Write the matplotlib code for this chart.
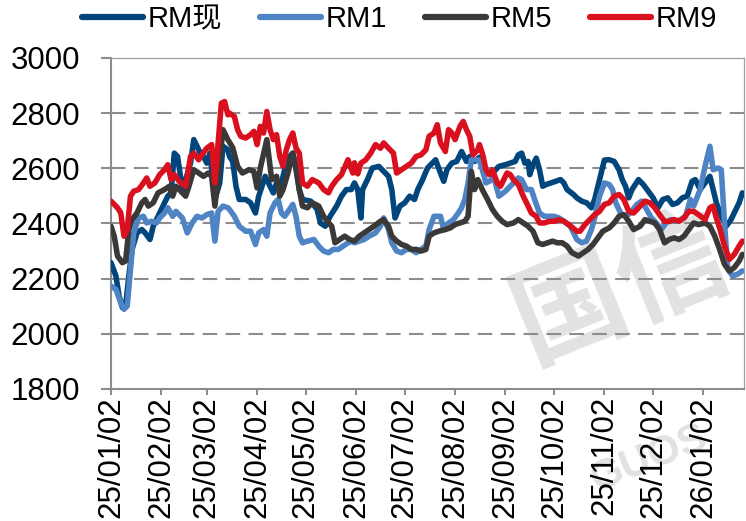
import matplotlib
matplotlib.use('Agg')
import matplotlib.pyplot as plt
import matplotlib.dates as mdates
import numpy as np
import pandas as pd

plt.rcParams['font.family'] = ['Liberation Sans', 'Noto Sans CJK SC', 'DejaVu Sans']

# dates are given as calendar days after 2025-01-02
start = np.datetime64('2025-01-02')

series_names = ['RM现', 'RM1', 'RM5', 'RM9']
series_colors = ['#00457c', '#4f84c4', '#3b3838', '#d9101e']

# RM现 (spot)
spot_days = [0, 3, 5, 7, 9, 11, 13, 16, 19, 21, 24, 26, 29, 32, 35, 37, 39, 41, 44, 46,
             49, 51, 53, 55, 57, 59, 61, 64, 67, 69, 72, 73, 75, 77, 79, 83, 86, 89, 91, 93,
             95, 98, 100, 102, 104, 107, 110, 112, 114, 116, 118, 123, 127, 129, 132, 135, 139, 142, 145, 148,
             150, 152, 154, 155, 158, 161, 165, 168, 171, 173, 175, 178, 181, 184, 187, 189, 192, 195, 198, 200,
             203, 205, 207, 210, 213, 216, 219, 221, 224, 227, 229, 231, 234, 236, 239, 243, 246, 249, 251, 253,
             255, 257, 258, 260, 262, 264, 266, 268, 271, 274, 277, 279, 281, 285, 287, 290, 293, 296, 298, 301,
             304, 307, 310, 313, 315, 317, 319, 321, 325, 328, 331, 334, 337, 340, 343, 346, 349, 352, 355, 358,
             360, 363, 366, 369, 371, 373, 376, 379, 382, 385, 387, 389]
spot_vals = [2258, 2210, 2137, 2095, 2101, 2210, 2306, 2366, 2378, 2366, 2342, 2390, 2426, 2463, 2499, 2511, 2655, 2643, 2523, 2559,
             2619, 2704, 2680, 2655, 2643, 2619, 2655, 2487, 2547, 2680, 2667, 2643, 2625, 2535, 2487, 2487, 2475, 2438, 2499, 2535,
             2571, 2535, 2511, 2547, 2523, 2595, 2643, 2655, 2607, 2523, 2487, 2481, 2451, 2402, 2390, 2426, 2463, 2499, 2523, 2523,
             2547, 2523, 2420, 2523, 2559, 2601, 2607, 2589, 2571, 2523, 2420, 2463, 2475, 2499, 2487, 2523, 2559, 2601, 2619, 2631,
             2583, 2553, 2595, 2619, 2625, 2661, 2625, 2643, 2625, 2640, 2620, 2589, 2577, 2589, 2607, 2613, 2619, 2625, 2649, 2655,
             2619, 2625, 2577, 2613, 2637, 2595, 2535, 2541, 2547, 2553, 2559, 2547, 2523, 2505, 2493, 2481, 2475, 2457, 2487, 2559,
             2630, 2631, 2625, 2595, 2559, 2535, 2493, 2523, 2559, 2541, 2517, 2493, 2457, 2487, 2493, 2469, 2475, 2493, 2499, 2553,
             2559, 2523, 2547, 2571, 2523, 2475, 2426, 2390, 2414, 2451, 2475, 2511]

# RM1
rm1_days = [0, 3, 6, 8, 10, 12, 14, 17, 20, 22, 25, 28, 30, 33, 35, 38, 40, 44, 47, 50,
            53, 56, 59, 62, 64, 66, 69, 72, 73, 76, 79, 83, 86, 89, 91, 94, 96, 98, 101, 103,
            105, 107, 110, 112, 114, 116, 118, 121, 125, 128, 131, 134, 137, 140, 143, 146, 149, 150, 153, 156,
            159, 163, 166, 168, 171, 173, 176, 179, 182, 185, 188, 191, 194, 196, 199, 203, 205, 208, 211, 214,
            216, 218, 220, 222, 225, 227, 229, 231, 233, 236, 239, 243, 246, 248, 251, 253, 256, 259, 261, 264,
            267, 270, 273, 276, 279, 283, 285, 287, 290, 293, 296, 298, 301, 304, 307, 309, 311, 314, 317, 320,
            324, 327, 330, 333, 336, 339, 342, 345, 348, 351, 354, 357, 359, 363, 366, 368, 369, 371, 374, 376,
            378, 380, 383, 386, 389]
rm1_vals = [2173, 2161, 2113, 2089, 2101, 2234, 2366, 2420, 2426, 2402, 2408, 2402, 2420, 2438, 2457, 2426, 2444, 2420, 2366, 2402,
            2426, 2420, 2432, 2438, 2336, 2444, 2463, 2457, 2451, 2426, 2390, 2372, 2372, 2324, 2366, 2378, 2354, 2438, 2475, 2487,
            2438, 2426, 2451, 2469, 2426, 2354, 2330, 2336, 2342, 2318, 2300, 2294, 2306, 2306, 2318, 2330, 2336, 2330, 2336, 2342,
            2354, 2366, 2390, 2420, 2378, 2330, 2300, 2294, 2306, 2306, 2294, 2306, 2318, 2378, 2426, 2426, 2378, 2402, 2414, 2438,
            2457, 2487, 2547, 2631, 2631, 2630, 2590, 2547, 2553, 2565, 2499, 2517, 2535, 2547, 2565, 2559, 2523, 2523, 2487, 2438,
            2426, 2426, 2426, 2420, 2408, 2390, 2366, 2342, 2330, 2336, 2378, 2420, 2499, 2547, 2541, 2523, 2475, 2438, 2426, 2438,
            2469, 2481, 2451, 2420, 2402, 2378, 2402, 2414, 2408, 2414, 2426, 2487, 2463, 2523, 2607, 2655, 2680, 2595, 2601, 2595,
            2402, 2234, 2210, 2216, 2228]

# RM5
rm5_days = [0, 2, 4, 7, 9, 11, 13, 16, 19, 21, 23, 26, 29, 33, 36, 38, 40, 42, 46, 48,
            51, 54, 57, 60, 62, 64, 66, 69, 72, 75, 78, 81, 85, 88, 90, 92, 96, 99, 102, 104,
            106, 109, 112, 114, 116, 118, 121, 124, 128, 131, 134, 136, 138, 141, 144, 147, 150, 153, 156, 159,
            162, 166, 168, 171, 173, 176, 179, 182, 185, 188, 191, 194, 196, 199, 202, 206, 209, 212, 215, 218,
            220, 222, 224, 226, 229, 232, 235, 238, 241, 244, 248, 251, 254, 257, 260, 263, 266, 269, 272, 275,
            278, 281, 284, 288, 291, 294, 297, 300, 303, 307, 310, 313, 316, 319, 322, 326, 329, 332, 335, 338,
            341, 344, 347, 350, 353, 356, 359, 362, 366, 369, 372, 375, 378, 381, 384, 387, 389]
rm5_vals = [2390, 2354, 2282, 2258, 2264, 2378, 2414, 2438, 2475, 2487, 2463, 2475, 2511, 2523, 2535, 2499, 2535, 2523, 2499, 2535,
            2595, 2583, 2571, 2583, 2571, 2463, 2571, 2740, 2704, 2675, 2607, 2583, 2595, 2589, 2529, 2601, 2704, 2559, 2571, 2499,
            2523, 2583, 2655, 2595, 2523, 2463, 2457, 2475, 2463, 2426, 2402, 2390, 2330, 2342, 2354, 2342, 2336, 2354, 2366, 2378,
            2390, 2408, 2414, 2390, 2354, 2336, 2324, 2318, 2306, 2306, 2300, 2306, 2354, 2366, 2372, 2378, 2384, 2396, 2402, 2408,
            2426, 2589, 2523, 2559, 2520, 2487, 2451, 2426, 2408, 2396, 2402, 2414, 2402, 2390, 2372, 2330, 2324, 2330, 2336, 2330,
            2330, 2318, 2294, 2282, 2294, 2306, 2324, 2348, 2372, 2384, 2402, 2426, 2432, 2408, 2378, 2390, 2414, 2408, 2402, 2378,
            2330, 2342, 2348, 2342, 2354, 2378, 2402, 2396, 2402, 2390, 2354, 2306, 2252, 2228, 2240, 2264, 2288]

# RM9
rm9_days = [0, 4, 6, 8, 10, 12, 14, 17, 20, 22, 24, 27, 30, 33, 35, 37, 39, 42, 46, 49,
            51, 54, 56, 59, 62, 64, 66, 68, 70, 72, 73, 76, 78, 80, 83, 86, 88, 90, 92, 94,
            96, 98, 100, 102, 104, 106, 108, 110, 112, 114, 116, 118, 121, 124, 128, 131, 134, 136, 139, 142,
            146, 149, 150, 152, 154, 157, 160, 163, 166, 168, 171, 174, 176, 179, 182, 185, 188, 191, 194, 196,
            199, 201, 203, 206, 208, 210, 212, 215, 217, 219, 221, 223, 226, 227, 229, 231, 233, 235, 238, 240,
            244, 246, 248, 251, 254, 257, 259, 262, 264, 267, 270, 273, 276, 279, 282, 287, 289, 292, 295, 298,
            301, 304, 307, 310, 313, 316, 319, 322, 326, 329, 332, 335, 338, 341, 344, 347, 350, 353, 356, 359,
            362, 366, 369, 371, 373, 375, 378, 381, 384, 387, 389]
rm9_vals = [2481, 2457, 2439, 2354, 2378, 2499, 2517, 2523, 2547, 2565, 2535, 2547, 2577, 2595, 2613, 2559, 2577, 2553, 2535, 2643,
            2655, 2631, 2649, 2673, 2686, 2547, 2692, 2836, 2842, 2794, 2800, 2788, 2740, 2716, 2710, 2722, 2734, 2686, 2752, 2728,
            2806, 2740, 2704, 2722, 2643, 2607, 2667, 2704, 2728, 2673, 2655, 2547, 2535, 2559, 2547, 2523, 2511, 2535, 2559, 2577,
            2631, 2583, 2620, 2580, 2619, 2631, 2655, 2686, 2673, 2692, 2673, 2655, 2583, 2595, 2607, 2619, 2643, 2649, 2667, 2716,
            2728, 2758, 2692, 2661, 2740, 2728, 2704, 2752, 2770, 2740, 2716, 2649, 2667, 2686, 2650, 2595, 2577, 2595, 2547, 2535,
            2583, 2577, 2559, 2541, 2499, 2463, 2438, 2426, 2402, 2402, 2408, 2408, 2414, 2408, 2396, 2372, 2372, 2396, 2414, 2432,
            2444, 2469, 2475, 2499, 2505, 2487, 2444, 2438, 2463, 2481, 2475, 2457, 2432, 2408, 2408, 2414, 2408, 2420, 2444, 2444,
            2432, 2414, 2457, 2463, 2420, 2384, 2318, 2270, 2288, 2318, 2336]

y_ticks = [1800, 2000, 2200, 2400, 2600, 2800, 3000]
x_end_days = 390


def to_dates(days):
    return start + np.array(days, dtype='timedelta64[D]')


fig = plt.figure(figsize=(7.46, 5.21), dpi=100)
ax = fig.add_axes([0.1488, 0.2534, 0.8485, 0.6353])
ax.set_facecolor('none')

# faint watermark, drawn before (below) the axes
fig.text(0.835, 0.44, '国信', fontsize=80, color='#e2e2e2', rotation=22,
         ha='center', va='center', zorder=-1, fontweight='bold')
fig.text(0.87, 0.12, 'GUOS', fontsize=30, color='#e2e2e2', rotation=22,
         ha='center', va='center', zorder=-1, fontweight='bold')

all_days = [spot_days, rm1_days, rm5_days, rm9_days]
all_vals = [spot_vals, rm1_vals, rm5_vals, rm9_vals]
for name, color, d, v in zip(series_names, series_colors, all_days, all_vals):
    ax.plot(to_dates(d), v, color=color, lw=4.0, label=name, zorder=3,
            solid_joinstyle='round', solid_capstyle='round')

ax.set_ylim(1800, 3000)
ax.set_yticks(y_ticks)
ax.set_xlim(start, start + np.timedelta64(x_end_days, 'D'))
ax.set_xticks(pd.date_range('2025-01-02', periods=13, freq=pd.DateOffset(months=1)))
ax.xaxis.set_major_formatter(mdates.DateFormatter('%y/%m/%d'))

grid_color = '#8c8c8c'
for yv in y_ticks[1:-1]:
    ax.axhline(yv, color=grid_color, lw=1.5, ls=(0, (7, 4)), zorder=1)

for side in ['top', 'right']:
    ax.spines[side].set_color('#a0a0a0')
    ax.spines[side].set_linewidth(0.9)
for side in ['left', 'bottom']:
    ax.spines[side].set_color(grid_color)
    ax.spines[side].set_linewidth(1.5)

ax.tick_params(axis='both', colors=grid_color, width=1.5, labelsize=22.5,
               labelcolor='black', direction='out')
ax.tick_params(axis='x', labelrotation=90, length=4, pad=1)
ax.tick_params(axis='y', length=7, pad=15)

leg = fig.legend(loc='center', bbox_to_anchor=(0.535, 0.963), ncol=4, frameon=False,
                 fontsize=21, handlelength=2.1, handletextpad=0.15, columnspacing=1.3)
for line in leg.get_lines():
    line.set_linewidth(4.5)
    line.set_solid_capstyle('round')

fig.savefig('out.png', dpi=100)
